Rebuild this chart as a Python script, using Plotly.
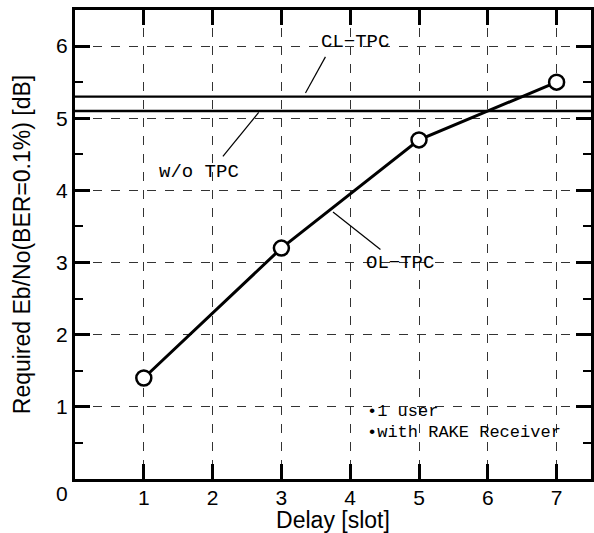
import plotly.graph_objects as go

delay = [1, 3, 5, 7]
ol_tpc = [1.4, 3.2, 4.7, 5.5]
cl_tpc_level = 5.3
wo_tpc_level = 5.1
x_range = [0, 7.5]
y_range = [0, 6.5]
x_ticks = [1, 2, 3, 4, 5, 6, 7]
y_ticks = [1, 2, 3, 4, 5, 6]

fig = go.Figure()
fig.add_trace(go.Scatter(x=x_range, y=[cl_tpc_level] * 2, mode="lines",
                         line=dict(color="black", width=2.3), showlegend=False))
fig.add_trace(go.Scatter(x=x_range, y=[wo_tpc_level] * 2, mode="lines",
                         line=dict(color="black", width=2.3), showlegend=False))
fig.add_trace(go.Scatter(x=delay, y=ol_tpc, mode="lines+markers",
                         line=dict(color="black", width=3),
                         marker=dict(symbol="circle", size=15, color="white",
                                     line=dict(color="black", width=2.5)),
                         showlegend=False))

mono_big = dict(family="Liberation Mono, Courier New, monospace", size=19, color="black")
mono_small = dict(family="Liberation Mono, Courier New, monospace", size=17, color="black")
notes = [
    ("CL\u2212TPC", 4.07, 6.05, "center", mono_big),
    ("w/o TPC", 1.80, 4.26, "center", mono_big),
    ("OL\u2212TPC", 4.73, 3.0, "center", mono_big),
    ("\u20221 user", 4.21, 0.93, "left", mono_small),
    ("\u2022with RAKE Receiver", 4.21, 0.64, "left", mono_small),
]
for txt, x, y, anc, fnt in notes:
    fig.add_annotation(x=x, y=y, text=txt, showarrow=False, font=fnt,
                       xanchor=anc, yanchor="middle")

leaders = [
    (3.64, 5.85, 3.35, 5.35),
    (2.67, 5.08, 2.15, 4.47),
    (3.75, 3.70, 4.44, 3.18),
]
for x0, y0, x1, y1 in leaders:
    fig.add_shape(type="line", x0=x0, y0=y0, x1=x1, y1=y1,
                  line=dict(color="black", width=1.2))

sans = "Liberation Sans, Arial, sans-serif"
fig.add_annotation(x=0, y=0, xref="x", yref="y", text="0", showarrow=False,
                   xanchor="right", yanchor="top", xshift=-5, yshift=-1,
                   font=dict(family=sans, size=21, color="black"))

axis_common = dict(showline=True, linecolor="black", linewidth=3, mirror="ticks",
                   ticks="inside", ticklen=15, tickwidth=3, tickcolor="black",
                   showgrid=True, gridcolor="#333333", griddash="dash", gridwidth=1,
                   zeroline=False,
                   tickfont=dict(family=sans, size=21, color="black"))

fig.update_xaxes(range=x_range, tickvals=x_ticks, ticktext=[str(v) for v in x_ticks],
                 ticklabelstandoff=-2,
                 title=dict(text="Delay [slot]", standoff=7,
                            font=dict(family=sans, size=23, color="black")),
                 **axis_common)
fig.update_yaxes(range=y_range, tickvals=y_ticks, ticktext=[str(v) for v in y_ticks],
                 minor=dict(dtick=0.5, ticklen=8, tickwidth=2, tickcolor="black",
                            ticks="inside", showgrid=False),
                 title=dict(text="Required Eb/No(BER=0.1%) [dB]", standoff=20,
                            font=dict(family=sans, size=23, color="black")),
                 **axis_common)

fig.update_layout(width=594, height=533, paper_bgcolor="white", plot_bgcolor="white",
                  margin=dict(l=75, r=0, t=10, b=54), showlegend=False)

fig.write_html("out.html", config={"displayModeBar": False},
               post_script="document.body.style.margin='0';")
